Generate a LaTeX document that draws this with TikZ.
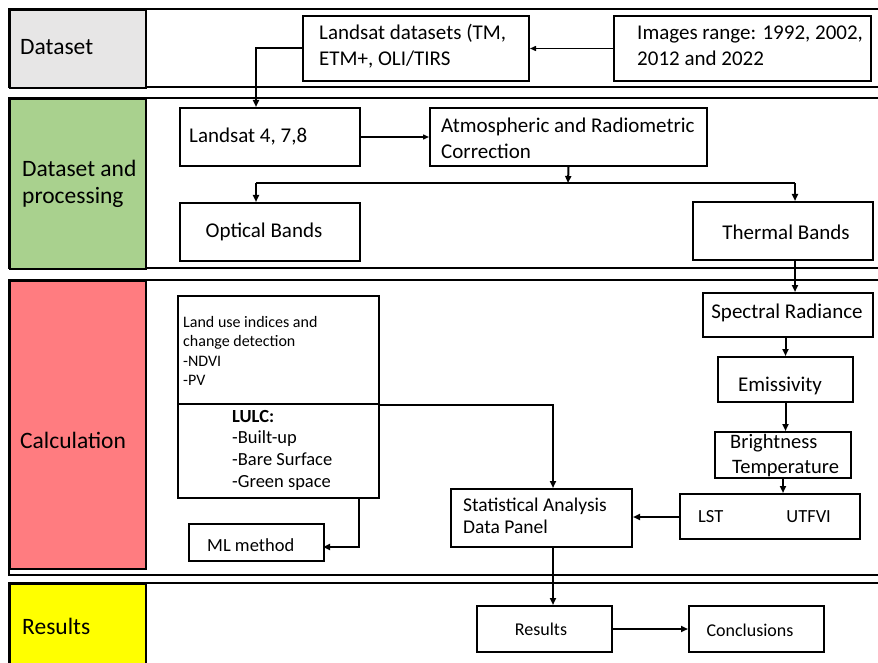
\documentclass[tikz,border=0pt]{standalone}
\usepackage{fontspec}
\setmainfont{Carlito}
\usetikzlibrary{arrows.meta,calc}
\definecolor{cgray}{HTML}{E7E6E6}
\definecolor{cgreen}{HTML}{A9D18E}
\definecolor{cred}{HTML}{FF7C80}
\definecolor{cyellow}{HTML}{FFFF00}
\begin{document}
\begin{tikzpicture}[x=1pt,y=-1pt,
  box/.style 2 args={draw, line width=2pt, anchor=north west, minimum width=#1pt, minimum height=#2pt, inner sep=0pt},
  cellbox/.style 2 args={draw, line width=2pt, anchor=north west, minimum width=#1pt, minimum height=#2pt, inner sep=0pt},
  rowline/.style={draw, line width=2.2pt},
  lbl/.style={anchor=west, inner sep=0pt, align=left, font=\fontsize{23.5}{27.5}\selectfont},
  txt/.style={anchor=west, inner sep=0pt, align=left, font=\fontsize{21}{26}\selectfont},
  ctxt/.style={anchor=center, inner sep=0pt, align=center, font=\fontsize{21}{26}\selectfont},
  stxt/.style={anchor=west, inner sep=0pt, align=left, font=\fontsize{18.5}{22.5}\selectfont},
  arr/.style={line width=2pt, -{Triangle[length=7pt,width=6pt]}},
  thinarr/.style={line width=1.4pt, -{Triangle[length=6pt,width=5pt]}},
]
\useasboundingbox (0,0) rectangle (878,663);
\clip (0,0) rectangle (878,663);

% rows
\draw[rowline] (9,9) rectangle (900,87);
\draw[rowline] (9,98) rectangle (900,268);
\draw[rowline] (9,280) rectangle (900,575);
\draw[rowline] (9,583) rectangle (900,680);

% label cells
\node[cellbox={136}{78}, fill=cgray] (cell1) at (9,9) {};
\node[cellbox={136}{170}, fill=cgreen] (cell2) at (9,98) {};
\node[cellbox={136}{288}, fill=cred] (cell3) at (9,280) {};
\node[cellbox={136}{90}, fill=cyellow] (cell4) at (9,583) {};

\node[lbl] (l1) at (20,47) {Dataset};
\node[lbl] (l2) at (22,184) {Dataset and\\processing};
\node[lbl] (l3) at (20,440) {Calculation};
\node[lbl] (l4) at (22,626) {Results};

% boxes
\node[box={226}{65}] (ds) at (302,15) {};
\node[box={257}{65}] (img) at (613,15) {};
\node[box={180}{58}] (l478) at (179,107) {};
\node[box={277}{58}] (atm) at (429,107) {};
\node[box={180}{58}] (opt) at (179,202) {};
\node[box={180}{58}] (th) at (692,201) {};
\node[box={170}{44}] (spec) at (702,292) {};
\node[box={135}{45}] (emis) at (717,356) {};
\node[box={136}{46}] (bt) at (714,431) {};
\node[box={180}{45}] (lst) at (679,493) {};
\node[box={181}{58}] (stat) at (450,488) {};
\node[box={201}{108}] (lu) at (177,295) {};
\node[box={201}{94}] (lulc) at (177,403) {};
\node[box={135}{37}] (ml) at (188,523) {};
\node[box={135}{46}] (res) at (476,605) {};
\node[box={135}{46}] (conc) at (688,605) {};

% texts
\node[txt] (t-ds) at (319,46) {Landsat datasets (TM,\\ETM+, OLI/TIRS};
\node[txt] (t-img) at (637,46) {Images range: 1992, 2002,\\2012 and 2022};
\node[txt] (t-l478) at (189,137) {Landsat 4, 7,8};
\node[txt] (t-atm) at (441,138) {Atmospheric and Radiometric\\Correction};
\node[ctxt] (t-opt) at (264,232) {Optical Bands};
\node[ctxt] (t-th) at (786,232) {Thermal Bands};
\node[ctxt] (t-spec) at (787,313) {Spectral Radiance};
\node[ctxt] (t-emis) at (780,386) {Emissivity};
\node[txt, font=\fontsize{20.5}{25}\selectfont] (t-bt) at (730,456) {Brightness\\\hspace*{2pt}Temperature};
\node[stxt] (t-lst) at (698,517) {LST\hspace{63pt}UTFVI};
\node[anchor=west, inner sep=0pt, align=left, font=\fontsize{19.5}{22.5}\selectfont] (t-stat) at (463,516) {Statistical Analysis\\Data Panel};
\node[anchor=west, inner sep=0pt, align=left, font=\fontsize{16}{19.2}\selectfont] (t-lu) at (183,351) {Land use indices and\\change detection\\-NDVI\\-PV};
\node[stxt, font=\fontsize{18.5}{21.7}\selectfont] (t-lulc) at (232,450) {\textbf{LULC:}\\-Built-up\\-Bare Surface\\-Green space};
\node[stxt] (t-ml) at (207,545) {ML method};
\node[anchor=center, inner sep=0pt, font=\fontsize{18}{22}\selectfont] (t-res) at (541,629) {Results};
\node[anchor=center, inner sep=0pt, font=\fontsize{18}{22}\selectfont] (t-conc) at (750,630) {Conclusions};

% connectors
\draw[thinarr] (img.west) -- (ds.east);
\coordinate (c1) at (256,107);
\draw[arr] (ds.west) -| (c1);
\draw[thinarr] (l478.east) -- (atm.west);
\coordinate (j) at (568,183);
\coordinate (jl) at (256,183);
\coordinate (jr) at (795,183);
\draw[arr] (atm.south) -- (j);
\draw[line width=2pt] (jl) -- (jr);
\draw[arr] (jl) -- (jl |- opt.north);
\draw[arr] (jr) -- (jr |- th.north);
\draw[arr] (jr |- th.south) -- (jr |- spec.north);
\draw[arr] (emis.north |- spec.south) -- (emis.north);
\draw[arr] (emis.south) -- (emis.south |- bt.north);
\draw[arr] (bt.south) -- (bt.south |- lst.north);
\draw[arr] (lst.west |- 0,517) -- (stat.east |- 0,517);
\coordinate (c2) at (553,488);
\draw[arr] (lu.south east) -| (c2);
\coordinate (c3) at (359,499);
\coordinate (c4) at (323,547);
\draw[arr] (c3) |- (c4);
\draw[arr] (c2 |- stat.south) -- (c2 |- res.north);
\draw[arr] (res.east) -- (conc.west);
\end{tikzpicture}
\end{document}
